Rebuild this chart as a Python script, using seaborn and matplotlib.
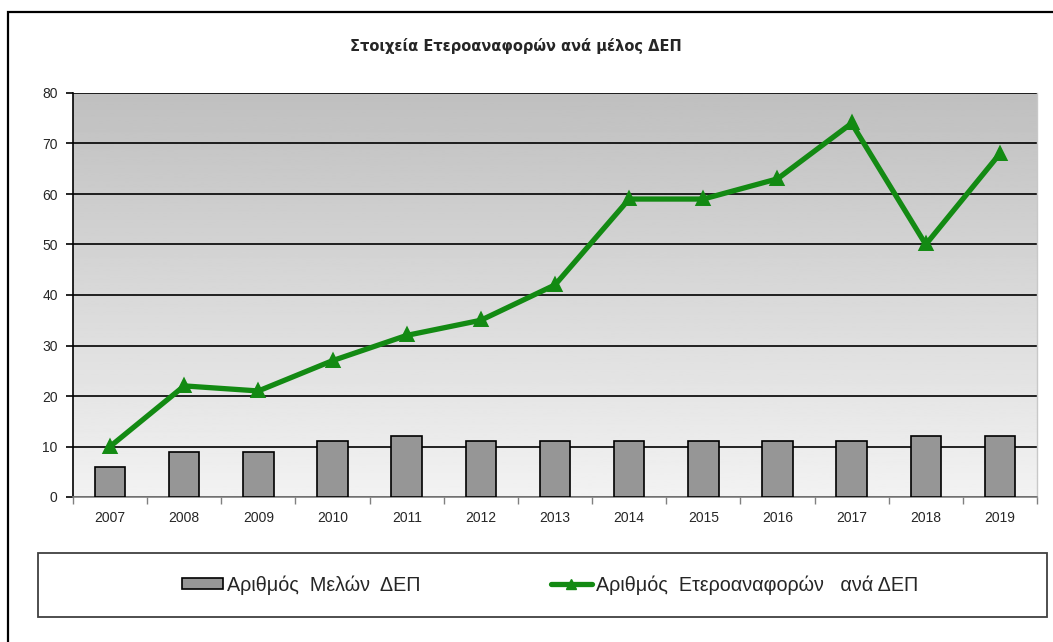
"""
plot.py
Στοιχεία Ετεροαναφορών ανά μέλος ΔΕΠ
"""

import matplotlib
matplotlib.use("Agg")
import matplotlib.pyplot as plt
from matplotlib.patches import Rectangle
from matplotlib.lines import Line2D
import seaborn as sns
import pandas as pd
import numpy as np

years = ["2007", "2008", "2009", "2010", "2011", "2012", "2013",
         "2014", "2015", "2016", "2017", "2018", "2019"]
members = [6, 9, 9, 11, 12, 11, 11, 11, 11, 11, 11, 12, 12]
references = [10, 22, 21, 27, 32, 35, 42, 59, 59, 63, 74, 50, 68]
y_ticks = [0, 10, 20, 30, 40, 50, 60, 70, 80]

title = "Στοιχεία Ετεροαναφορών ανά μέλος ΔΕΠ"
label_members = "Αριθμός  Μελών  ΔΕΠ"
label_refs = "Αριθμός  Ετεροαναφορών   ανά ΔΕΠ"

BAR_COLOR = "#969696"
LINE_COLOR = "#138a13"

sns.set_theme(style="white")
plt.rcParams["font.family"] = ["Liberation Sans", "DejaVu Sans"]

df = pd.DataFrame({"year": years, "members": members, "refs": references})

W, H = 1053, 642
fig = plt.figure(figsize=(W / 100, H / 100), dpi=100)
ax = fig.add_axes([73 / W, 1 - 497 / H, (1037 - 73) / W, (497 - 93) / H])

# gradient background of the plot area
grad = np.linspace(0.95, 0.75, 256).reshape(-1, 1)
ax.imshow(grad, extent=[0, 1, 0, 1], transform=ax.transAxes, aspect="auto",
          cmap="gray", vmin=0, vmax=1, zorder=0, origin="lower")

sns.barplot(data=df, x="year", y="members", color=BAR_COLOR, saturation=1,
            edgecolor="black", linewidth=1.2, width=0.41, ax=ax, zorder=3)
sns.pointplot(data=df, x="year", y="refs", color=LINE_COLOR, markers="^",
              errorbar=None, linewidth=3.8, markersize=6.5, ax=ax, zorder=4)

ax.set_xlim(-0.5, len(years) - 0.5)
ax.set_ylim(0, 80)
ax.set_yticks(y_ticks)
ax.set_xlabel("")
ax.set_ylabel("")

ax.set_axisbelow(True)
ax.yaxis.grid(True, color="black", linewidth=1.2)
ax.xaxis.grid(False)

ax.spines["top"].set_visible(False)
ax.spines["left"].set_color("black")
ax.spines["left"].set_linewidth(1.2)
ax.spines["bottom"].set_color("#808080")
ax.spines["bottom"].set_linewidth(1.2)
ax.spines["right"].set_color("#c8c8c8")
ax.spines["right"].set_linewidth(1.0)

ax.tick_params(axis="y", which="major", direction="out", length=5,
               width=1.2, color="black", labelsize=10, pad=6, left=True)
ax.tick_params(axis="x", which="major", length=0, labelsize=10, pad=10)
ax.set_xticks(np.arange(-0.5, len(years)), minor=True)
ax.tick_params(axis="x", which="minor", direction="out", length=5,
               width=1, color="#808080", bottom=True)

# title
fig.text(516 / W, 1 - 46 / H, title, ha="center", va="center",
         fontsize=10.5, fontweight="bold", family=["DejaVu Sans"])

# outer frame
fig.add_artist(Rectangle((8 / W, -0.1), 1.2, 1 - 12 / H + 0.1,
                         transform=fig.transFigure, fill=False,
                         edgecolor="black", linewidth=1.6))

# legend box
fig.add_artist(Rectangle((38 / W, 1 - 617 / H), (1047 - 38) / W, 64 / H,
                         transform=fig.transFigure, fill=False,
                         edgecolor="#404040", linewidth=1.3))

handles = [
    Rectangle((0, 0), 1, 1, facecolor=BAR_COLOR, edgecolor="black", linewidth=1.2),
    Line2D([], [], color=LINE_COLOR, linewidth=3.8, marker="^", markersize=6.5),
]
if ax.get_legend() is not None:
    ax.get_legend().remove()
fig.legend(handles, [label_members, label_refs], loc="center",
           bbox_to_anchor=(550 / W, 1 - 585 / H), ncol=2, frameon=False,
           fontsize=14.2, handlelength=2.1, handletextpad=0.2,
           columnspacing=6.6, handleheight=0.5)

fig.savefig("out.png", dpi=100)
plt.close(fig)
